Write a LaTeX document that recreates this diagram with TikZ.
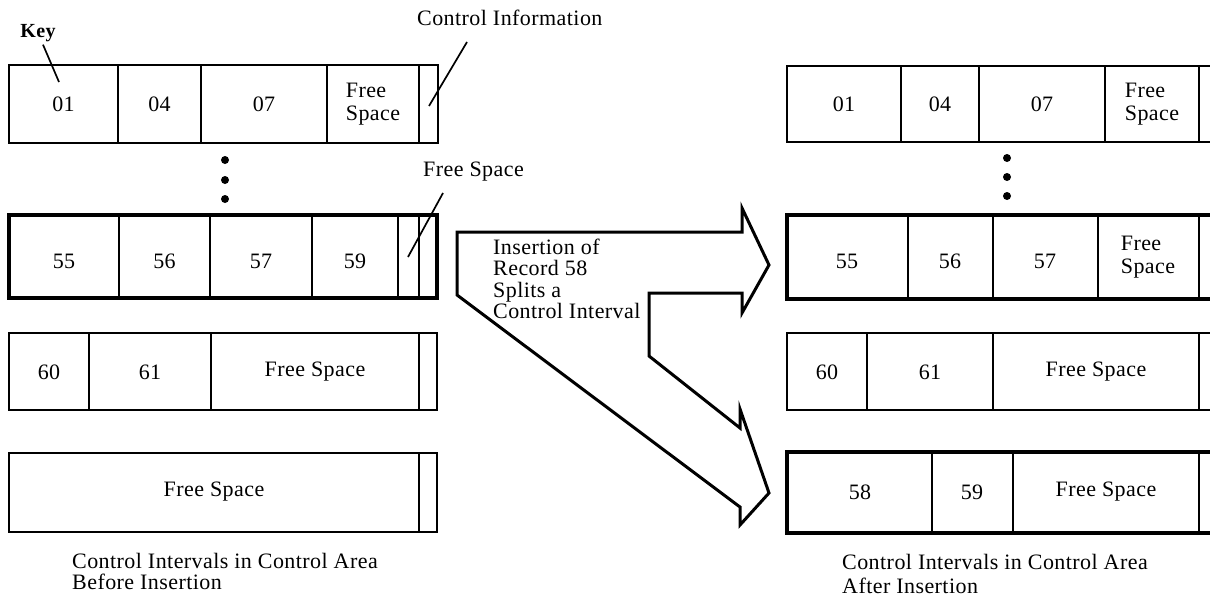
\documentclass[tikz,border=0pt]{standalone}
\usepackage{fontspec}
\setmainfont{Liberation Serif}[LetterSpace=2]
\begin{document}
\begin{tikzpicture}[x=1pt,y=-1pt,
  txt/.style={inner sep=0pt, font=\fontsize{22}{23}\selectfont},
  rowbox/.style={line width=2.8pt},
  thickbox/.style={line width=4.6pt},
  divider/.style={line width=1.6pt},
  leader/.style={line width=1.7pt},
  splitarrow/.style={line width=3pt, line join=miter, miter limit=20},
  dot/.style={circle, fill=black, inner sep=0pt, minimum size=8pt}]
\useasboundingbox (0,0) rectangle (1210,597);
\begin{scope}
\clip (0,0) rectangle (1210,597);
% ---------- left: before insertion ----------
\draw[rowbox] (9,65) rectangle (438,143);
\foreach \x in {118,201,327,419} \draw[divider] (\x,65) -- (\x,143);
\node[txt] (L1a) at (63.5,104) {01};
\node[txt] (L1b) at (159.5,104) {04};
\node[txt] (L1c) at (264,104) {07};
\node[txt,align=left] (L1d) at (373,104) {Free\\Space};

\node[dot] (ld1) at (225,160) {};
\node[dot] (ld2) at (225,180) {};
\node[dot] (ld3) at (225,199) {};

\draw[thickbox] (9,215) rectangle (437,298);
\foreach \x in {119,210,312,398,419} \draw[divider] (\x,215) -- (\x,298);
\node[txt] (L2a) at (64,261) {55};
\node[txt] (L2b) at (164.5,261) {56};
\node[txt] (L2c) at (261,261) {57};
\node[txt] (L2d) at (355,261) {59};

\draw[rowbox] (9,333) rectangle (437,410);
\foreach \x in {89,211,419} \draw[divider] (\x,333) -- (\x,410);
\node[txt] (L3a) at (49,372) {60};
\node[txt] (L3b) at (150,372) {61};
\node[txt] (L3c) at (315,372) {Free Space};

\draw[rowbox] (9,453) rectangle (437,532);
\draw[divider] (419,453) -- (419,532);
\node[txt] (L4a) at (214,492) {Free Space};

% labels with leaders
\node[txt, font=\fontsize{20}{23}\selectfont\bfseries] (key) at (38,33) {Key};
\coordinate (keyE) at (59,82);
\draw[leader, shorten <=3pt] (key) -- (keyE);

\node[txt, anchor=west] (ci) at (417,18) {Control Information};
\coordinate (ciS) at (467,42);
\coordinate (ciE) at (429,106);
\draw[leader] (ciS) -- (ciE);

\node[txt, anchor=west] (fsl) at (423,172) {Free Space};
\coordinate (fsS) at (443,193);
\coordinate (fsE) at (408,257);
\draw[leader] (fsS) -- (fsE);

\node[txt, anchor=north west, align=left, font=\fontsize{22}{21}\selectfont] (capL) at (72,553)
  {Control Intervals in Control Area\\Before Insertion};

% ---------- split arrow ----------
\draw[splitarrow] (457,232) -- (742,232) -- (742,208) -- (769,265) -- (742,313) -- (742,293)
  -- (649,293) -- (649,356) -- (740,428) -- (740,409) -- (769,493) -- (740,525) -- (740,507)
  -- (457,295) -- cycle;
\node[txt, anchor=north west, align=left, font=\fontsize{22}{21.3}\selectfont] (ins) at (493,239)
  {Insertion of\\Record 58\\Splits a\\Control Interval};

% ---------- right: after insertion ----------
\draw[rowbox] (787,66) rectangle (1216,142);
\foreach \x in {901,979,1105,1199} \draw[divider] (\x,66) -- (\x,142);
\node[txt] (R1a) at (844,104) {01};
\node[txt] (R1b) at (940,104) {04};
\node[txt] (R1c) at (1042,104) {07};
\node[txt,align=left] (R1d) at (1152,104) {Free\\Space};

\node[dot] (rd1) at (1007,158) {};
\node[dot] (rd2) at (1007,177) {};
\node[dot] (rd3) at (1007,196) {};

\draw[thickbox] (787,215) rectangle (1216,299);
\foreach \x in {908,993,1098,1199} \draw[divider] (\x,215) -- (\x,299);
\node[txt] (R2a) at (847,261) {55};
\node[txt] (R2b) at (950,261) {56};
\node[txt] (R2c) at (1045,261) {57};
\node[txt,align=left] (R2d) at (1148,257) {Free\\Space};

\draw[rowbox] (787,333) rectangle (1216,410);
\foreach \x in {867,993,1199} \draw[divider] (\x,333) -- (\x,410);
\node[txt] (R3a) at (827,372) {60};
\node[txt] (R3b) at (930,372) {61};
\node[txt] (R3c) at (1096,372) {Free Space};

\draw[thickbox] (787,452) rectangle (1216,533);
\foreach \x in {932,1013,1199} \draw[divider] (\x,452) -- (\x,533);
\node[txt] (R4a) at (860,492) {58};
\node[txt] (R4b) at (972,492) {59};
\node[txt] (R4c) at (1106,492) {Free Space};

\node[txt, anchor=north west, align=left, font=\fontsize{22}{24}\selectfont] (capR) at (842,554)
  {Control Intervals in Control Area\\After Insertion};
\end{scope}
\end{tikzpicture}
\end{document}
